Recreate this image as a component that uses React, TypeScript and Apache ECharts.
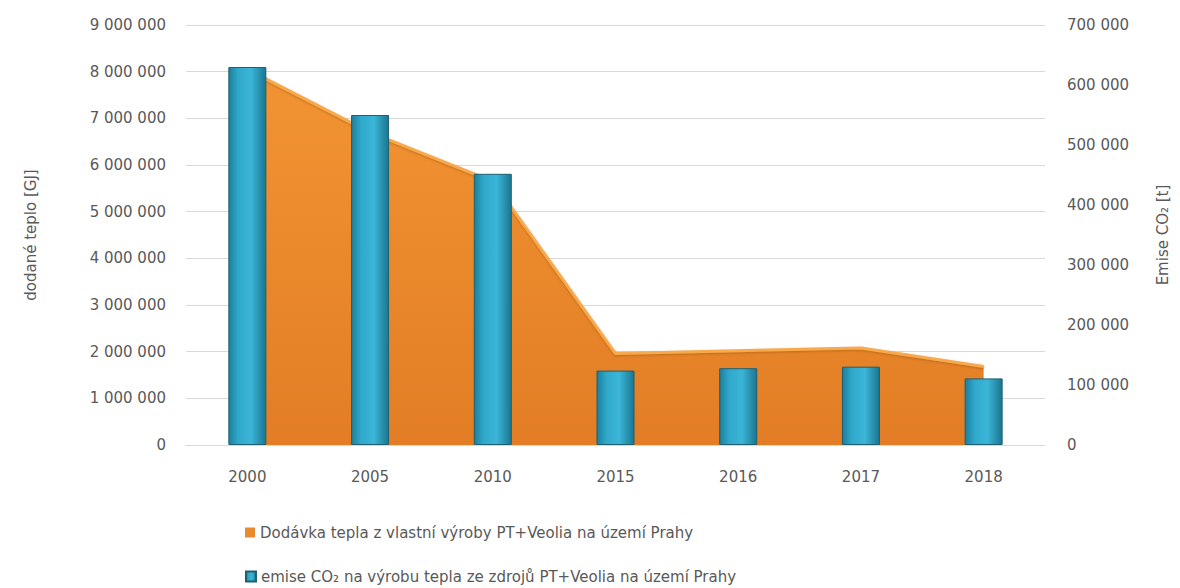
import React, { useEffect, useRef } from "react";
import * as echarts from "echarts";

const categories = ["2000", "2005", "2010", "2015", "2016", "2017", "2018"];
const heatSupplyGJ = [8050000, 6700000, 5650000, 1960000, 2020000, 2080000, 1680000];
const co2EmissionsT = [630000, 550000, 452000, 124000, 128000, 130500, 111000];
const leftTicks = { min: 0, max: 9000000, interval: 1000000 };
const rightTicks = { min: 0, max: 700000, interval: 100000 };
const areaName = "Dodávka tepla z vlastní výroby PT+Veolia na území Prahy";
const barName = "emise CO₂ na výrobu tepla ze zdrojů PT+Veolia na území Prahy";

const fmt = (v: number) => String(v).replace(/\B(?=(\d{3})+(?!\d))/g, " ");

export default function App() {
  const ref = useRef<HTMLDivElement>(null);
  useEffect(() => {
    if (!ref.current) return;
    const chart = echarts.init(ref.current, undefined, { renderer: "svg" });
    const font = "DejaVu Sans";
    const grey = "#595959";
    const legendBase = {
      left: 240,
      itemWidth: 10,
      itemHeight: 10,
      icon: "rect",
      textStyle: { color: grey, fontSize: 15, fontFamily: font },
    };
    chart.setOption({
      animation: false,
      textStyle: { fontFamily: font },
      grid: { left: 186, right: 135, top: 25, bottom: 143 },
      legend: [
        { ...legendBase, top: 520, data: [areaName] },
        { ...legendBase, top: 564, data: [barName] },
      ],
      xAxis: {
        type: "category",
        data: categories,
        boundaryGap: true,
        axisLine: { lineStyle: { color: "#D9D9D9" } },
        axisTick: { show: false },
        axisLabel: { color: grey, fontSize: 15, margin: 24 },
      },
      yAxis: [
        {
          type: "value",
          ...leftTicks,
          name: "dodané teplo [GJ]",
          nameLocation: "middle",
          nameRotate: 90,
          nameGap: 148,
          nameTextStyle: { color: grey, fontSize: 15 },
          axisLabel: { color: grey, fontSize: 15, margin: 20, formatter: fmt },
          axisLine: { show: false },
          axisTick: { show: false },
          splitLine: { lineStyle: { color: "#D9D9D9" } },
        },
        {
          type: "value",
          ...rightTicks,
          position: "right",
          name: "Emise CO₂ [t]",
          nameLocation: "middle",
          nameRotate: 90,
          nameGap: 110,
          nameTextStyle: { color: grey, fontSize: 15 },
          axisLabel: { color: grey, fontSize: 15, margin: 22, formatter: fmt },
          axisLine: { show: false },
          axisTick: { show: false },
          splitLine: { show: false },
        },
      ],
      series: [
        {
          name: areaName,
          type: "line",
          yAxisIndex: 0,
          data: heatSupplyGJ,
          symbol: "none",
          z: 1,
          itemStyle: { color: "#E98A2E" },
          lineStyle: { color: "#F7A94C", width: 3, shadowColor: "rgba(150,80,0,0.5)", shadowBlur: 2, shadowOffsetY: 1 },
          areaStyle: {
            opacity: 1,
            color: new echarts.graphic.LinearGradient(0, 0, 0, 1, [
              { offset: 0, color: "#F29433" },
              { offset: 1, color: "#E27D25" },
            ]),
          },
        },
        {
          name: barName,
          type: "bar",
          yAxisIndex: 1,
          data: co2EmissionsT,
          barWidth: 38,
          z: 3,
          itemStyle: {
            color: new echarts.graphic.LinearGradient(0, 0, 1, 0, [
              { offset: 0, color: "#1C7F9C" },
              { offset: 0.25, color: "#2FA8CA" },
              { offset: 0.6, color: "#3BB6D8" },
              { offset: 1, color: "#1A7690" },
            ]),
            borderColor: "#1E5F70",
            borderWidth: 1,
          },
        },
      ],
    });
    return () => chart.dispose();
  }, []);
  return <div ref={ref} style={{ width: 1180, height: 588, position: "absolute", left: 0, top: 0 }} />;
}
